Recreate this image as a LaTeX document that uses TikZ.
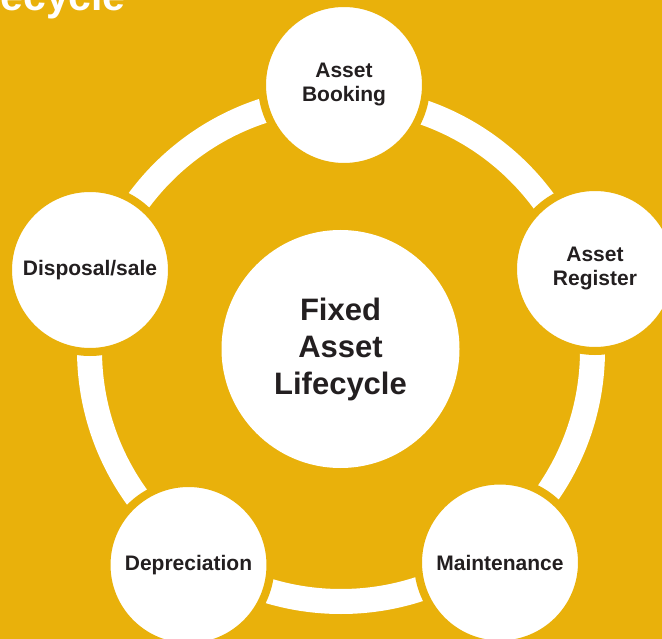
\documentclass[tikz,border=0pt]{standalone}
\usepackage{fontspec}
\setmainfont{Liberation Sans}
\definecolor{bgyellow}{RGB}{233,177,11}
\definecolor{txtdark}{RGB}{35,31,32}
\tikzset{
  stagebox/.style={circle, fill=white, draw=bgyellow, line width=8pt, minimum size=164pt, inner sep=0pt,
    align=center, text=txtdark, font=\fontsize{21}{24}\selectfont\bfseries},
  hubbox/.style={circle, fill=white, minimum size=238pt, inner sep=0pt,
    align=center, text=txtdark, font=\fontsize{31}{37}\selectfont\bfseries},
  ringband/.style={draw=white, line width=25pt},
}
\begin{document}
\begin{tikzpicture}[x=1pt,y=-1pt]
\useasboundingbox (0,0) rectangle (662,639);
\clip (0,0) rectangle (662,639);
\fill[bgyellow] (0,0) rectangle (662,639);
\node[anchor=base east, inner sep=0pt, text=white, font=\fontsize{41}{41}\selectfont\bfseries] (title) at (126,11) {Lifecycle};
\coordinate (ringc) at (341,350);
\draw[ringband] (ringc) circle (251.5pt);
\node[hubbox] (hub) at (340.5,349) {Fixed\\Asset\\Lifecycle};
\node[stagebox] (booking) at (344,85) {Asset\\Booking};
\node[stagebox] (register) at (595,269) {Asset\\Register};
\node[stagebox] (maint) at (500,562.5) {Maintenance};
\node[stagebox] (deprec) at (188.5,565) {Depreciation};
\node[stagebox] (dispose) at (90,270) {Disposal/sale};
\end{tikzpicture}
\end{document}
